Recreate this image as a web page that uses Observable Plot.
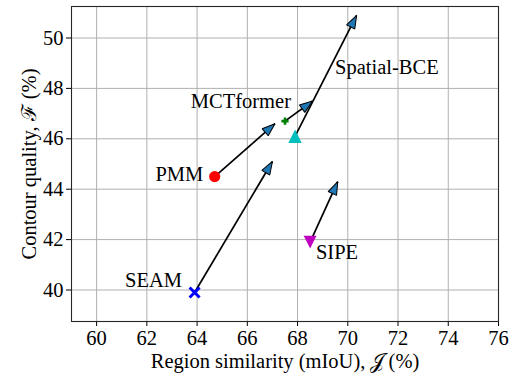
<!DOCTYPE html>
<html><head><meta charset="utf-8">
<script src="https://cdn.jsdelivr.net/npm/d3@7"></script>
<script src="https://cdn.jsdelivr.net/npm/@observablehq/plot@0.6"></script>
<style>
body{margin:0;background:#fff}
#chart svg text{font-family:"Liberation Serif",serif !important;}
</style>
</head><body><div id="chart"></div>
<script>
const methods = ["SEAM", "PMM", "MCTformer", "Spatial-BCE", "SIPE"];
const jBase = [63.9, 64.7, 67.5, 67.9, 68.5];
const fBase = [39.9, 44.5, 46.7, 46.1, 41.9];
const jNew = [67.0, 67.1, 68.6, 70.35, 69.6];
const fNew = [45.1, 46.6, 47.5, 50.9, 44.3];
const xTicks = [60, 62, 64, 66, 68, 70, 72, 74, 76];
const yTicks = [40, 42, 44, 46, 48, 50];
const xLabel = "Region similarity (mIoU), \u{1D4A5}\u2009(%)";
const yLabel = "Contour quality, \u2131 (%)";

const data = methods.map((m, i) => ({method: m, j: jBase[i], f: fBase[i], j2: jNew[i], f2: fNew[i]}));
const only = (m) => data.filter(d => d.method === m);

const rad = (size) => Math.sqrt(size / Math.PI);
const symX = {draw(c, s) { const r = rad(s); c.moveTo(-r, -r); c.lineTo(r, r); c.moveTo(r, -r); c.lineTo(-r, r); }};
const symPlus = {draw(c, s) { const r = rad(s), w = r * 0.36;
  c.moveTo(-w, -r); c.lineTo(w, -r); c.lineTo(w, -w); c.lineTo(r, -w); c.lineTo(r, w); c.lineTo(w, w);
  c.lineTo(w, r); c.lineTo(-w, r); c.lineTo(-w, w); c.lineTo(-r, w); c.lineTo(-r, -w); c.lineTo(-w, -w); c.closePath(); }};
const symUp = {draw(c, s) { const r = rad(s); c.moveTo(0, -r); c.lineTo(r, r); c.lineTo(-r, r); c.closePath(); }};
const symDown = {draw(c, s) { const r = rad(s); c.moveTo(0, r); c.lineTo(r, -r); c.lineTo(-r, -r); c.closePath(); }};

function arrowHead(color, context) {
  const doc = (context && context.document) || document;
  const ns = "http://www.w3.org/2000/svg";
  const m = doc.createElementNS(ns, "marker");
  m.setAttribute("viewBox", "-15 -7 17 14");
  m.setAttribute("markerWidth", 17);
  m.setAttribute("markerHeight", 14);
  m.setAttribute("markerUnits", "userSpaceOnUse");
  m.setAttribute("orient", "auto");
  m.setAttribute("refX", 0);
  m.setAttribute("refY", 0);
  const p = doc.createElementNS(ns, "path");
  p.setAttribute("d", "M0,0L-13,-4.6L-13,4.6Z");
  p.setAttribute("fill", "#1f77b4");
  p.setAttribute("stroke", "#000");
  p.setAttribute("stroke-width", 1);
  p.setAttribute("stroke-linejoin", "miter");
  m.appendChild(p);
  return m;
}

const chart = Plot.plot({
  width: 512,
  height: 375,
  marginLeft: 71,
  marginRight: 14,
  marginTop: 6,
  marginBottom: 54,
  style: {fontFamily: "Liberation Serif", fontSize: "20.5px", color: "#000", background: "#fff", overflow: "visible"},
  x: {domain: [59, 76], ticks: xTicks, tickSize: 5, tickPadding: 3.5, label: null},
  y: {domain: [38.75, 51.25], ticks: yTicks, tickSize: 5, tickPadding: 3, label: null},
  marks: [
    Plot.ruleX(xTicks, {stroke: "#b0b0b0", strokeWidth: 1}),
    Plot.ruleY(yTicks, {stroke: "#b0b0b0", strokeWidth: 1}),
    Plot.frame({stroke: "#262626", strokeWidth: 1.1}),
    Plot.link(data, {x1: "j", y1: "f", x2: "j2", y2: "f2", stroke: "#000", strokeWidth: 1.7, markerEnd: arrowHead}),
    Plot.dot(only("SEAM"), {x: "j", y: "f", symbol: symX, r: 5, fill: "none", stroke: "#0000ff", strokeWidth: 3}),
    Plot.dot(only("PMM"), {x: "j", y: "f", r: 5.6, fill: "#ff0000", stroke: "none"}),
    Plot.dot(only("MCTformer"), {x: "j", y: "f", symbol: symPlus, r: 3.6, fill: "#008000", stroke: "none"}),
    Plot.dot(only("Spatial-BCE"), {x: "j", y: "f", symbol: symUp, r: 6.7, fill: "#00bfbf", stroke: "none"}),
    Plot.dot(only("SIPE"), {x: "j", y: "f", symbol: symDown, r: 6.4, fill: "#bf00bf", stroke: "none"}),
    Plot.text(only("SEAM"), {x: "j", y: "f", text: "method", textAnchor: "end", lineAnchor: "bottom", dx: -12.6, dy: -5.3, fill: "#000"}),
    Plot.text(only("PMM"), {x: "j", y: "f", text: "method", textAnchor: "end", lineAnchor: "bottom", dx: -11.4, dy: 4.5, fill: "#000"}),
    Plot.text(only("MCTformer"), {x: "j", y: "f", text: "method", textAnchor: "end", lineAnchor: "bottom", dx: 6, dy: -12.7, fill: "#000"}),
    Plot.text(only("Spatial-BCE"), {x: "j", y: "f", text: "method", textAnchor: "start", lineAnchor: "bottom", dx: 40, dy: -62, fill: "#000"}),
    Plot.text(only("SIPE"), {x: "j", y: "f", text: "method", textAnchor: "start", lineAnchor: "bottom", dx: 5.8, dy: 16.6, fill: "#000"}),
    Plot.text([xLabel], {frameAnchor: "bottom", text: d => d, textAnchor: "middle", lineAnchor: "bottom", dy: 46.5, fill: "#000"}),
    Plot.text([yLabel], {frameAnchor: "left", text: d => d, rotate: -90, textAnchor: "middle", lineAnchor: "bottom", dx: -36, fill: "#000"})
  ]
});
document.getElementById("chart").appendChild(chart);
</script>
</body></html>
